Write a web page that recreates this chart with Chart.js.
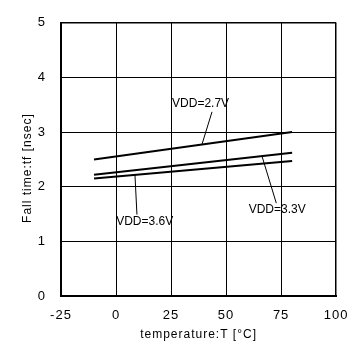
<!DOCTYPE html>
<html><head><meta charset="utf-8">
<script src="https://cdn.jsdelivr.net/npm/chart.js@4/dist/chart.umd.min.js"></script>
<style>html,body{margin:0;padding:0;background:#fff}#wrap{width:359px;height:348px;position:relative}</style>
</head><body><div id="wrap"><canvas id="c" width="359" height="348"></canvas></div>
<script>
// temperature (°C) sample points of each curve
const temperature = [-10, 80];
// fall time tf (nsec) for each supply voltage
const vdd27 = [2.50, 3.00];
const vdd33 = [2.22, 2.62];
const vdd36 = [2.15, 2.47];
// axis ticks
const xTicks = [-25, 0, 25, 50, 75, 100];
const yTicks = [0, 1, 2, 3, 4, 5];
// curve labels (data coordinates)
const labelTexts = ['VDD=2.7V', 'VDD=3.3V', 'VDD=3.6V'];
const labelX = [38.4, 73.2, 13.0];
const labelY = [3.52, 1.58, 1.36];
// leader lines (data coordinates: [on curve, near label])
const leaderX = [[39.0, 43.6], [66.3, 72.8], [8.6, 9.5]];
const leaderY = [[2.77, 3.37], [2.56, 1.70], [2.22, 1.49]];

const FONT = "'Liberation Sans', Arial, sans-serif";

function pts(xs, ys) { return xs.map((x, i) => ({ x: x, y: ys[i] })); }
function curve(ys) {
  return { data: pts(temperature, ys), borderColor: '#000', borderWidth: 2, pointRadius: 0, showLine: true, fill: false, tension: 0 };
}
function leader(i) {
  return { data: pts(leaderX[i], leaderY[i]), borderColor: '#000', borderWidth: 1, pointRadius: 0, showLine: true, fill: false, tension: 0 };
}

const spacingPlugin = {
  id: 'spacing',
  beforeDraw(chart) { chart.ctx.letterSpacing = '1px'; },
  beforeDatasetsDraw(chart) { chart.ctx.letterSpacing = '0px'; }
};
const labelPlugin = {
  id: 'curveLabels',
  afterDatasetsDraw(chart) {
    const ctx = chart.ctx, xs = chart.scales.x, ys = chart.scales.y;
    ctx.save();
    ctx.letterSpacing = '0px';
    ctx.font = '12px ' + FONT;
    ctx.fillStyle = '#000';
    ctx.textAlign = 'center';
    ctx.textBaseline = 'middle';
    labelTexts.forEach((t, i) => {
      ctx.fillText(t, xs.getPixelForValue(labelX[i]), ys.getPixelForValue(labelY[i]));
    });
    ctx.restore();
  }
};

const edgeWidth = (edge) => (c) => (c.tick && c.tick.value === edge ? 1.5 : 1);

new Chart(document.getElementById('c'), {
  type: 'scatter',
  data: {
    datasets: [curve(vdd27), curve(vdd33), curve(vdd36), leader(0), leader(1), leader(2)]
  },
  options: {
    responsive: false,
    animation: false,
    events: [],
    layout: { padding: { left: 0, right: 20, top: 14, bottom: 0 } },
    plugins: { legend: { display: false }, tooltip: { enabled: false } },
    scales: {
      x: {
        type: 'linear', min: -25, max: 100,
        afterBuildTicks: (s) => { s.ticks = xTicks.map(v => ({ value: v })); },
        afterFit: (s) => { s.height = 52; },
        ticks: { color: '#000', font: { family: FONT, size: 13 }, padding: 12, maxRotation: 0, autoSkip: false },
        grid: { color: '#000', lineWidth: edgeWidth(100), drawTicks: false },
        border: { color: '#000', width: 2 },
        title: { display: true, text: 'temperature:T [°C]', color: '#000', font: { family: FONT, size: 12 }, padding: { top: 0, bottom: 6 } }
      },
      y: {
        type: 'linear', min: 0, max: 5,
        afterBuildTicks: (s) => { s.ticks = yTicks.map(v => ({ value: v })); },
        afterFit: (s) => { s.width = 61; },
        ticks: { color: '#000', font: { family: FONT, size: 13 }, padding: 15 },
        grid: { color: '#000', lineWidth: edgeWidth(5), drawTicks: false },
        border: { color: '#000', width: 2 },
        title: { display: true, text: 'Fall time:tf [nsec]    ', color: '#000', font: { family: FONT, size: 12 }, padding: { top: 20, bottom: 0 } }
      }
    }
  },
  plugins: [spacingPlugin, labelPlugin]
});
</script>
</body></html>
